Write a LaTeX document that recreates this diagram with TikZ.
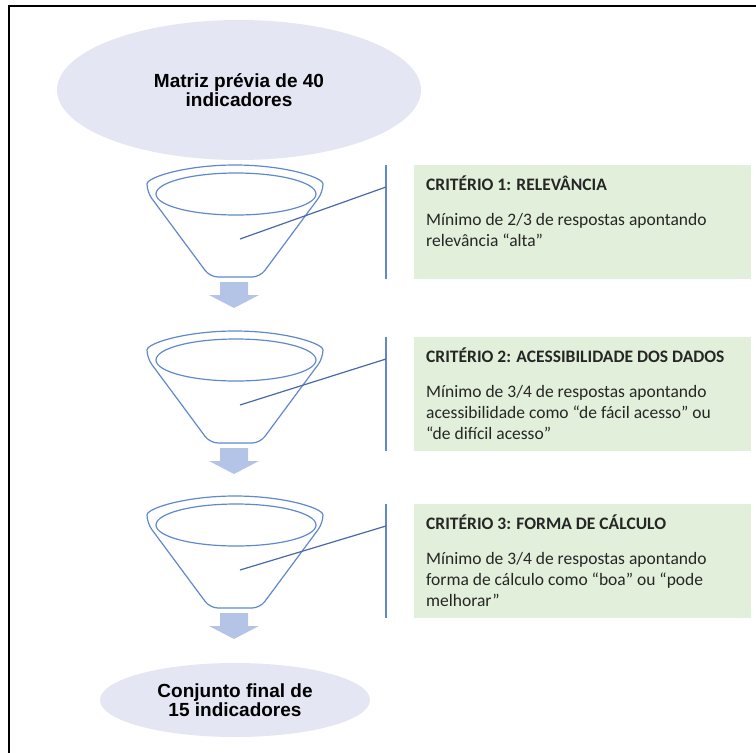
\documentclass[tikz,border=0pt]{standalone}
\usepackage{fontspec}
\setmainfont{Carlito}
\newfontfamily\arialfont{Liberation Sans}
\usetikzlibrary{shapes.geometric,positioning}

\definecolor{lilas}{RGB}{228,230,243}
\definecolor{verdeclaro}{RGB}{226,239,218}
\definecolor{azulfunil}{RGB}{96,136,204}
\definecolor{azulseta}{RGB}{180,196,230}
\definecolor{azullinha}{RGB}{72,104,168}
\definecolor{textocinza}{RGB}{38,38,38}

\begin{document}
\begin{tikzpicture}[x=1pt, y=1pt,
        elipse/.style={ellipse, fill=lilas, inner sep=0pt, align=center, font=\arialfont\bfseries\fontsize{19}{18.5}\selectfont},
        criterio/.style={fill=verdeclaro, anchor=north west, inner xsep=12pt, inner ysep=11pt, text=textocinza, font=\fontsize{17.5}{21}\selectfont},
        funil/.style={draw=azulfunil, line width=1.2pt},
        barra/.style={draw=azulfunil, line width=1.5pt},
        ligacao/.style={draw=azullinha, line width=1.2pt},
        seta/.style={fill=azulseta}]
    \useasboundingbox (0,0) rectangle (756,-753);
    % moldura
    \draw[line width=2.5pt] (9,-753) -- (9,-6) -- (756,-6);

    \node[elipse, minimum width=364pt, minimum height=140pt] (matriz) at (239,-90) {Matriz prévia de 40\\indicadores};

    % funis e setas
    \foreach \n/\t in {1/165, 2/331, 3/496} {
        \begin{scope}[shift={(235,-\t)}]
            \draw[funil, rounded corners=8pt] (-88,-27) arc[start angle=180, end angle=0, x radius=88, y radius=27] -- (25,-112) -- (-25,-112) -- cycle;
            \draw[funil] (1,-29) ellipse[x radius=80, y radius=21];
            \coordinate (f\n) at (5,-74);
            \coordinate (a\n) at (-1,-117);
            \fill[seta] (a\n) ++(-14,0) -- ++(28,0) -- ++(0,-13) -- ++(11,0) -- ++(-25,-13) -- ++(-25,13) -- ++(11,0) -- cycle;
        \end{scope}
    }

    \node[criterio] (c1) at (414,-165) {\parbox[c][92pt][t]{313pt}{\raggedright\textbf{CRITÉRIO 1: RELEVÂNCIA}\\[14pt]Mínimo de 2/3 de respostas apontando\\relevância “alta”}};
    \node[criterio] (c2) at (414,-337) {\parbox[c][92pt][t]{313pt}{\raggedright\textbf{CRITÉRIO 2: ACESSIBILIDADE DOS DADOS}\\[14pt]Mínimo de 3/4 de respostas apontando\\acessibilidade como “de fácil acesso” ou\\“de difícil acesso”}};
    \node[criterio] (c3) at (414,-504) {\parbox[c][92pt][t]{313pt}{\raggedright\textbf{CRITÉRIO 3: FORMA DE CÁLCULO}\\[14pt]Mínimo de 3/4 de respostas apontando\\forma de cálculo como “boa” ou “pode\\melhorar”}};

    \foreach \n in {1,2,3} {
        \draw[barra] ([xshift=-28pt]c\n.north west) -- ([xshift=-28pt]c\n.south west);
        \draw[ligacao] (f\n) -- ([shift={(-28pt,-22pt)}]c\n.north west);
    }

    \node[elipse, minimum width=270pt, minimum height=74pt] (conjunto) at (235,-700) {Conjunto final de\\15 indicadores};
\end{tikzpicture}
\end{document}
